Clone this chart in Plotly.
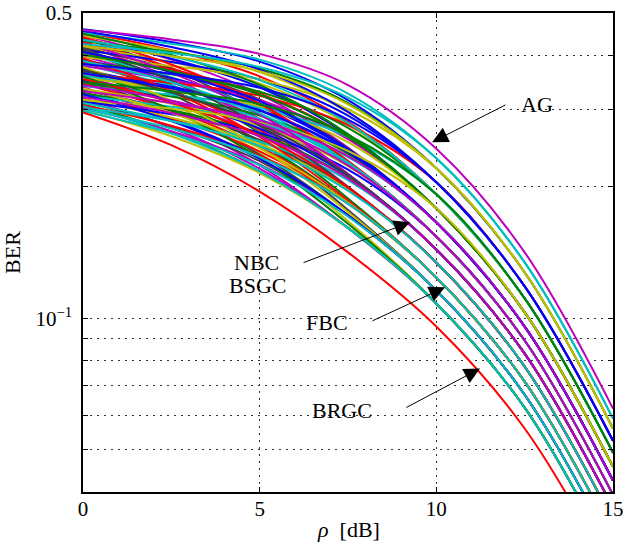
import math
import plotly.graph_objects as go

# SNR sample points [dB]
rho_db = [0, 2.5, 5, 7.5, 10, 12.5, 15]

# BER of each labeling curve at low SNR
ber_at_0db = [0.459, 0.457, 0.452, 0.450, 0.445, 0.443, 0.438, 0.436, 0.431, 0.429,
              0.424, 0.422, 0.418, 0.416, 0.411, 0.409, 0.405, 0.403, 0.398, 0.396,
              0.392, 0.390, 0.386, 0.384, 0.380, 0.378, 0.374, 0.372, 0.368, 0.366,
              0.362, 0.360, 0.357, 0.355, 0.351, 0.349, 0.345, 0.344, 0.340, 0.338,
              0.335, 0.333, 0.329, 0.328, 0.324, 0.323, 0.319, 0.317, 0.314, 0.313,
              0.309, 0.308, 0.304, 0.303, 0.300, 0.296,
              0.455, 0.448, 0.440, 0.434, 0.427, 0.420, 0.413, 0.407, 0.401, 0.394,
              0.388, 0.382, 0.376, 0.370, 0.364, 0.358, 0.353, 0.347, 0.342, 0.336,
              0.331, 0.326, 0.321, 0.316, 0.311, 0.306, 0.301, 0.298]
ber_at_2p5db = [0.429, 0.435, 0.411, 0.425, 0.391, 0.410, 0.372, 0.393, 0.407, 0.374,
                0.405, 0.355, 0.386, 0.372, 0.386, 0.342, 0.371, 0.356, 0.347, 0.378,
                0.326, 0.355, 0.362, 0.332, 0.341, 0.351, 0.310, 0.330, 0.339, 0.313,
                0.346, 0.328, 0.314, 0.334, 0.298, 0.315, 0.322, 0.300, 0.325, 0.285,
                0.310, 0.299, 0.285, 0.300, 0.287, 0.305, 0.273, 0.288, 0.275, 0.293,
                0.267, 0.276, 0.283, 0.268, 0.261, 0.249,
                0.418, 0.401, 0.381, 0.398, 0.365, 0.398, 0.350, 0.366, 0.368, 0.331,
                0.347, 0.363, 0.315, 0.329, 0.336, 0.300, 0.312, 0.331, 0.315, 0.295,
                0.311, 0.283, 0.295, 0.302, 0.283, 0.265, 0.272, 0.265]
ber_at_5db = [0.387, 0.403, 0.358, 0.391, 0.326, 0.366, 0.295, 0.338, 0.373, 0.307,
              0.376, 0.279, 0.345, 0.317, 0.352, 0.266, 0.327, 0.300, 0.286, 0.352,
              0.253, 0.309, 0.330, 0.270, 0.293, 0.316, 0.239, 0.279, 0.300, 0.252,
              0.323, 0.286, 0.263, 0.305, 0.237, 0.272, 0.291, 0.247, 0.303, 0.224,
              0.276, 0.256, 0.232, 0.264, 0.241, 0.280, 0.220, 0.251, 0.229, 0.266,
              0.217, 0.236, 0.254, 0.225, 0.215, 0.195,
              0.371, 0.342, 0.310, 0.351, 0.293, 0.368, 0.276, 0.314, 0.325, 0.260,
              0.295, 0.337, 0.246, 0.278, 0.299, 0.233, 0.262, 0.309, 0.279, 0.245,
              0.284, 0.232, 0.261, 0.282, 0.248, 0.217, 0.234, 0.224]
ber_at_7p5db = [0.316, 0.342, 0.282, 0.327, 0.246, 0.296, 0.214, 0.263, 0.311, 0.229,
                0.320, 0.200, 0.278, 0.245, 0.291, 0.188, 0.260, 0.228, 0.214, 0.301,
                0.177, 0.243, 0.273, 0.200, 0.227, 0.257, 0.167, 0.213, 0.241, 0.184,
                0.277, 0.226, 0.199, 0.253, 0.172, 0.212, 0.238, 0.184, 0.260, 0.161,
                0.223, 0.198, 0.172, 0.210, 0.184, 0.234, 0.161, 0.197, 0.172, 0.219,
                0.161, 0.183, 0.207, 0.172, 0.161, 0.1415,
                0.297, 0.264, 0.229, 0.280, 0.214, 0.309, 0.1995, 0.244, 0.260, 0.186,
                0.2275, 0.285, 0.175, 0.213, 0.240, 0.1645, 0.199, 0.263, 0.224, 0.184,
                0.235, 0.172, 0.209, 0.2415, 0.196, 0.161, 0.183, 0.171]

# group (common high-SNR asymptote) of each curve
curve_group = [3, 1, 5, 2, 7, 4, 9, 6, 3, 8,
               2, 10, 5, 7, 4, 11, 6, 8, 9, 3,
               12, 7, 5, 10, 8, 6, 13, 9, 7, 11,
               4, 8, 10, 6, 12, 9, 7, 11, 5, 13,
               8, 10, 12, 9, 11, 7, 13, 10, 12, 8,
               13, 11, 9, 12, 13, 14,
               4, 6, 8, 5, 9, 3, 10, 7, 6, 11,
               8, 4, 12, 9, 7, 13, 10, 5, 8, 11,
               7, 12, 9, 6, 10, 13, 11, 12]

# BER of each group at high SNR
group_ber_10db = [0.2445, 0.2325, 0.2205, 0.2049, 0.1922, 0.1785, 0.1658,
                  0.1539, 0.1437, 0.1342, 0.1240, 0.1158, 0.1081, 0.0957]
group_ber_12p5db = [0.1415, 0.1342, 0.1273, 0.1183, 0.1110, 0.1031, 0.0957,
                    0.0889, 0.0830, 0.0775, 0.0716, 0.0668, 0.0624, 0.0559]
group_ber_15db = [0.0621, 0.0589, 0.0559, 0.0524, 0.0492, 0.0457, 0.0425,
                  0.0394, 0.0368, 0.0344, 0.0318, 0.0296, 0.0277, 0.0256]

# axis ticks
y_tick_vals = [0.05, 0.06, 0.07, 0.08, 0.09, 0.1, 0.2, 0.3, 0.4, 0.5]
y_tick_text = ["", "", "", "", "", "10<sup>\u22121</sup>", "", "", "", "0.5"]
x_tick_vals = [0, 5, 10, 15]

# annotation texts and positions (rho [dB], BER)
label_text = ["AG", "NBC", "BSGC", "FBC", "BRGC"]
label_rho = [12.85, 4.90, 4.93, 6.91, 7.33]
label_ber = [0.3092, 0.1343, 0.1189, 0.0978, 0.0614]
arrow_tip_rho = [9.88, 9.255, 10.246, 11.237]
arrow_tip_ber = [0.253, 0.1658, 0.1177, 0.0767]
arrow_tail_rho = [12.0, 6.20, 8.15, 9.11]
arrow_tail_ber = [0.3092, 0.1337, 0.0983, 0.0622]

# ---------------- styles ----------------
B, G, R, C, M, Y, K = ("rgb(0,0,255)", "rgb(0,128,0)", "rgb(255,0,0)",
                       "rgb(0,191,191)", "rgb(191,0,191)", "rgb(191,191,0)",
                       "rgb(64,64,64)")
cycle = [B, G, R, C, M, Y, K]
group_color = [M, C, Y, B, G, Y, M, M, M, C, C, C, C, R]
FONT = "Liberation Serif, Times New Roman, serif"

n = len(ber_at_0db)
leader = {}
for i in range(n):
    leader[curve_group[i]] = i
leaders = set(leader.values())
order = [i for i in range(n) if i not in leaders] + sorted(leaders, key=lambda k: curve_group[k])

fig = go.Figure()
for i in order:
    g = curve_group[i] - 1
    yv = [ber_at_0db[i], ber_at_2p5db[i], ber_at_5db[i], ber_at_7p5db[i],
          group_ber_10db[g], group_ber_12p5db[g], group_ber_15db[g]]
    col = group_color[g] if i in leaders else cycle[i % 7]
    fig.add_trace(go.Scatter(x=rho_db, y=yv, mode="lines",
                             line=dict(color=col, width=2.0, shape="spline", smoothing=1.0),
                             showlegend=False, hoverinfo="skip"))

grid = dict(showgrid=True, gridcolor="rgb(50,50,50)", gridwidth=1, griddash="1.5px,5.5px")
fig.update_xaxes(range=[0, 15], tickvals=x_tick_vals, ticks="inside", ticklen=5,
                 tickcolor="black", showline=True, linecolor="black", linewidth=1.5,
                 mirror="ticks", zeroline=False, automargin=False, ticklabelstandoff=-3,
                 ticklabeloverflow="allow",
                 tickfont=dict(family=FONT, size=21, color="black"),
                 **grid)
fig.update_yaxes(type="log", range=[math.log10(0.04), math.log10(0.5)], tickvals=y_tick_vals,
                 ticktext=y_tick_text, ticks="inside", ticklen=5, tickcolor="black",
                 showline=True, linecolor="black", linewidth=1.5, mirror="ticks",
                 zeroline=False, automargin=False, ticklabelstandoff=5,
                 ticklabeloverflow="allow",
                 tickfont=dict(family=FONT, size=21, color="black"),
                 title=dict(text="BER", font=dict(family=FONT, size=22, color="black"),
                            standoff=17),
                 **grid)

# x-axis title
fig.add_annotation(x=0.5, y=-0.079, xref="paper", yref="paper", showarrow=False,
                   text="<i>\u03c1</i>  [dB]", yanchor="middle",
                   font=dict(family=FONT, size=22, color="black"))

for k in range(len(arrow_tip_rho)):
    fig.add_annotation(x=arrow_tip_rho[k], y=math.log10(arrow_tip_ber[k]), xref="x", yref="y",
                       ax=arrow_tail_rho[k], ay=math.log10(arrow_tail_ber[k]),
                       axref="x", ayref="y", text="", showarrow=True,
                       arrowhead=2, arrowsize=3.2, arrowwidth=1, arrowcolor="black")
for k in range(len(label_text)):
    fig.add_annotation(x=label_rho[k], y=math.log10(label_ber[k]), xref="x", yref="y",
                       text=label_text[k], showarrow=False,
                       font=dict(family=FONT, size=22, color="black"))

fig.update_layout(width=623, height=552, margin=dict(l=83, r=10, t=13, b=60),
                  paper_bgcolor="white", plot_bgcolor="white",
                  font=dict(family=FONT, color="black"))
# remove the default 8 px page margin so the figure fills the window exactly
fig.write_html("out.html", config={"displayModeBar": False},
               post_script="document.body.style.margin='0';")
